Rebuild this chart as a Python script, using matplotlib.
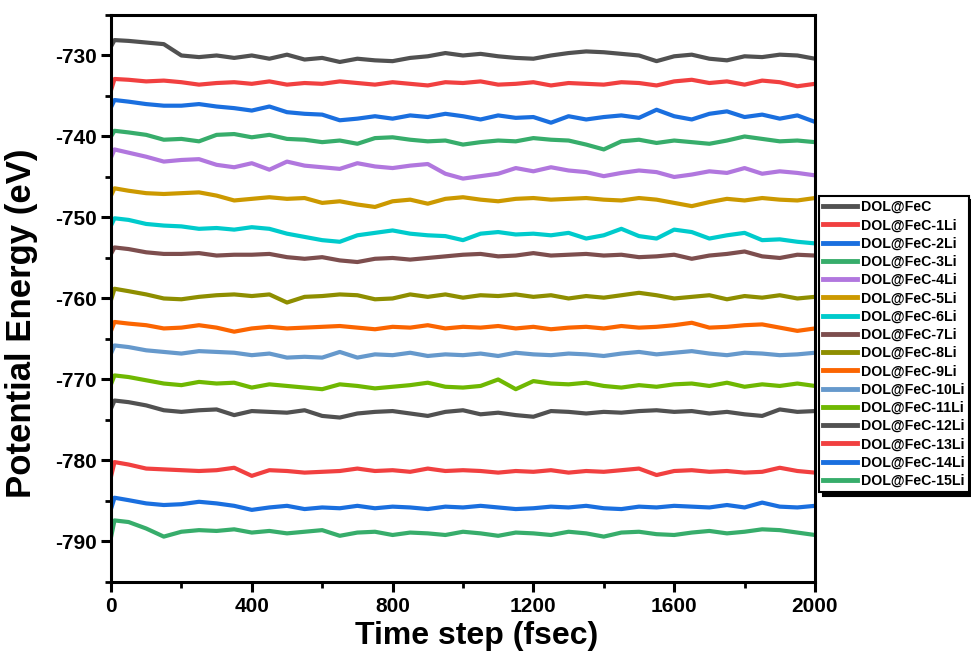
import matplotlib
matplotlib.use("Agg")
import matplotlib.pyplot as plt
from matplotlib.ticker import MultipleLocator

# time axis (fsec), values every 50 fs
time_fs = [0, 10] + list(range(50, 2001, 50))

labels = ["DOL@FeC"] + ["DOL@FeC-%dLi" % i for i in range(1, 16)]

feC = [-728.9, -728.1, -728.2, -728.4, -728.6, -730.0, -730.2, -730.0, -730.3, -730.0, -730.4,
       -729.9, -730.5, -730.3, -730.8, -730.4, -730.6, -730.7, -730.3, -730.1, -729.7, -730.0,
       -729.8, -730.1, -730.3, -730.4, -730.0, -729.7, -729.5, -729.6, -729.8, -730.0, -730.7,
       -730.1, -729.9, -730.4, -730.6, -730.1, -730.2, -729.9, -730.0, -730.4]
li1 = [-734.3, -732.9, -733.0, -733.2, -733.1, -733.3, -733.6, -733.4, -733.3, -733.5, -733.2,
       -733.6, -733.4, -733.5, -733.2, -733.4, -733.6, -733.3, -733.5, -733.7, -733.3, -733.4,
       -733.2, -733.6, -733.5, -733.3, -733.7, -733.4, -733.5, -733.6, -733.3, -733.4, -733.7,
       -733.2, -733.0, -733.4, -733.2, -733.6, -733.1, -733.3, -733.8, -733.5]
li2 = [-736.4, -735.5, -735.7, -736.0, -736.2, -736.2, -736.0, -736.3, -736.5, -736.8, -736.3,
       -737.0, -737.2, -737.3, -738.0, -737.8, -737.5, -737.8, -737.4, -737.6, -737.2, -737.5,
       -737.9, -737.4, -737.7, -737.6, -738.3, -737.5, -737.9, -737.6, -737.4, -737.7, -736.7,
       -737.5, -737.9, -737.2, -736.9, -737.6, -737.3, -737.8, -737.4, -738.2]
li3 = [-740.0, -739.3, -739.5, -739.8, -740.4, -740.3, -740.6, -739.8, -739.7, -740.1, -739.8,
       -740.3, -740.4, -740.7, -740.5, -740.9, -740.2, -740.1, -740.4, -740.6, -740.5, -741.0,
       -740.7, -740.5, -740.6, -740.2, -740.4, -740.5, -741.0, -741.6, -740.6, -740.4, -740.8,
       -740.5, -740.7, -740.9, -740.5, -740.0, -740.3, -740.6, -740.5, -740.7]
li4 = [-742.6, -741.6, -742.0, -742.5, -743.1, -742.9, -742.8, -743.5, -743.8, -743.3, -744.1,
       -743.1, -743.6, -743.8, -744.0, -743.3, -743.7, -743.9, -743.6, -743.4, -744.6, -745.2,
       -744.9, -744.6, -743.9, -744.3, -743.8, -744.2, -744.4, -744.9, -744.5, -744.2, -744.4,
       -745.0, -744.7, -744.3, -744.5, -743.9, -744.6, -744.3, -744.5, -744.8]
li5 = [-747.3, -746.4, -746.7, -747.0, -747.1, -747.0, -746.9, -747.3, -747.9, -747.7, -747.5,
       -747.7, -747.6, -748.2, -748.0, -748.4, -748.7, -748.0, -747.8, -748.3, -747.7, -747.5,
       -747.8, -748.0, -747.7, -747.6, -747.8, -747.7, -747.6, -747.8, -747.9, -747.6, -747.8,
       -748.2, -748.6, -748.1, -747.7, -747.9, -747.6, -747.8, -747.9, -747.6]
li6 = [-751.0, -750.1, -750.3, -750.8, -751.0, -751.1, -751.4, -751.3, -751.5, -751.2, -751.4,
       -752.0, -752.4, -752.8, -753.0, -752.2, -751.9, -751.6, -752.0, -752.2, -752.3, -752.8,
       -752.0, -751.8, -752.1, -752.0, -752.2, -751.9, -752.6, -752.2, -751.4, -752.3, -752.6,
       -751.5, -751.8, -752.6, -752.2, -751.9, -752.8, -752.7, -753.0, -753.2]
li7 = [-754.5, -753.7, -753.9, -754.3, -754.5, -754.5, -754.4, -754.7, -754.6, -754.6, -754.5,
       -754.9, -755.1, -754.9, -755.3, -755.5, -755.1, -755.0, -755.2, -755.0, -754.8, -754.6,
       -754.5, -754.8, -754.7, -754.4, -754.7, -754.6, -754.5, -754.7, -754.6, -754.9, -754.8,
       -754.6, -755.1, -754.7, -754.5, -754.2, -754.8, -755.0, -754.6, -754.7]
li8 = [-760.2, -758.8, -759.1, -759.5, -760.0, -760.1, -759.8, -759.6, -759.5, -759.7, -759.5,
       -760.5, -759.8, -759.7, -759.5, -759.6, -760.1, -760.0, -759.5, -759.8, -759.5, -759.9,
       -759.6, -759.7, -759.5, -759.8, -759.6, -760.0, -759.7, -759.9, -759.6, -759.3, -759.6,
       -760.0, -759.8, -759.6, -760.1, -759.7, -759.9, -759.6, -760.0, -759.8]
li9 = [-764.0, -762.9, -763.1, -763.3, -763.7, -763.6, -763.3, -763.6, -764.1, -763.7, -763.5,
       -763.7, -763.6, -763.5, -763.4, -763.6, -763.8, -763.5, -763.6, -763.3, -763.7, -763.5,
       -763.6, -763.4, -763.7, -763.5, -763.8, -763.6, -763.5, -763.7, -763.4, -763.6, -763.5,
       -763.3, -763.0, -763.6, -763.5, -763.3, -763.2, -763.6, -764.0, -763.7]
li10 = [-766.8, -765.8, -766.0, -766.4, -766.6, -766.8, -766.5, -766.6, -766.7, -767.0, -766.8,
        -767.3, -767.2, -767.3, -766.6, -767.3, -766.9, -767.0, -766.7, -767.1, -766.9, -767.0,
        -766.8, -767.1, -766.7, -766.9, -767.0, -766.8, -766.9, -767.1, -766.8, -766.6, -766.9,
        -766.7, -766.5, -766.8, -767.0, -766.7, -766.8, -767.0, -766.9, -766.7]
li11 = [-770.6, -769.5, -769.7, -770.1, -770.5, -770.7, -770.3, -770.5, -770.4, -771.0, -770.6,
        -770.8, -771.0, -771.2, -770.6, -770.8, -771.1, -770.9, -770.7, -770.4, -770.9, -771.0,
        -770.8, -770.0, -771.2, -770.2, -770.5, -770.6, -770.4, -770.8, -771.0, -770.7, -770.9,
        -770.6, -770.5, -770.8, -770.4, -770.9, -770.6, -770.8, -770.5, -770.8]
li12 = [-773.6, -772.6, -772.8, -773.2, -773.8, -774.0, -773.8, -773.7, -774.4, -773.9, -774.0,
        -774.1, -773.8, -774.5, -774.7, -774.2, -774.0, -773.9, -774.2, -774.5, -774.0, -773.8,
        -774.3, -774.1, -774.4, -774.6, -773.9, -774.0, -774.2, -774.0, -774.1, -773.9, -773.8,
        -774.0, -773.9, -774.2, -774.0, -774.3, -774.5, -773.7, -774.0, -773.9]
li13 = [-782.0, -780.2, -780.5, -781.0, -781.1, -781.2, -781.3, -781.2, -780.9, -781.9, -781.2,
        -781.3, -781.5, -781.4, -781.3, -781.0, -781.3, -781.2, -781.4, -781.0, -781.3, -781.2,
        -781.3, -781.5, -781.3, -781.4, -781.2, -781.5, -781.3, -781.4, -781.2, -781.0, -781.8,
        -781.3, -781.2, -781.4, -781.3, -781.5, -781.4, -780.9, -781.3, -781.5]
li14 = [-786.0, -784.6, -784.9, -785.3, -785.5, -785.4, -785.1, -785.3, -785.6, -786.1, -785.8,
        -785.6, -786.0, -785.8, -785.9, -785.6, -785.9, -785.7, -785.8, -786.0, -785.7, -785.8,
        -785.6, -785.8, -786.0, -785.9, -785.7, -785.8, -785.6, -785.9, -786.0, -785.7, -785.8,
        -785.6, -785.7, -785.8, -785.5, -785.8, -785.2, -785.7, -785.8, -785.6]
li15 = [-789.5, -787.4, -787.6, -788.4, -789.4, -788.8, -788.6, -788.7, -788.5, -788.9, -788.7,
        -789.0, -788.8, -788.6, -789.3, -788.9, -788.8, -789.2, -788.9, -789.0, -789.2, -788.8,
        -789.0, -789.3, -788.9, -789.0, -789.2, -788.8, -789.0, -789.4, -788.9, -788.8, -789.1,
        -789.2, -788.9, -788.7, -789.0, -788.8, -788.5, -788.6, -788.9, -789.2]

series = [feC, li1, li2, li3, li4, li5, li6, li7, li8, li9, li10, li11, li12, li13, li14, li15]

# Origin-style default colour cycle
colors = ["#515151", "#F14040", "#1A6FDF", "#37AD6B", "#B177DE", "#CC9900", "#00CBCC",
          "#7D4E4E", "#8E8E00", "#FB6501", "#6699CC", "#6FB802",
          "#515151", "#F14040", "#1A6FDF", "#37AD6B"]

plt.rcParams['font.family'] = ['Liberation Sans', 'DejaVu Sans']
plt.rcParams['axes.unicode_minus'] = False

fig = plt.figure(figsize=(9.71, 6.57), dpi=100)
ax = fig.add_axes([0.1143, 0.1142, 0.725, 0.863])

for y, c, lab in zip(series, colors, labels):
    ax.plot(time_fs, y, color=c, lw=3.0, label=lab)

ax.set_xlim(0, 2000)
ax.set_ylim(-795, -725)
ax.xaxis.set_major_locator(MultipleLocator(400))
ax.xaxis.set_minor_locator(MultipleLocator(200))
ax.yaxis.set_major_locator(MultipleLocator(10))
ax.yaxis.set_minor_locator(MultipleLocator(5))
ax.tick_params(which='major', direction='out', length=7, width=2.2, labelsize=15)
ax.tick_params(which='minor', direction='out', length=4, width=2.0)
for t in ax.get_xticklabels() + ax.get_yticklabels():
    t.set_fontweight('bold')
for s in ax.spines.values():
    s.set_linewidth(2.2)

ax.set_xlabel("Time step (fsec)", fontsize=23, fontweight='bold', labelpad=4)
ax.xaxis.label.set_x(0.52)
ax.set_ylabel("Potential Energy (eV)", fontsize=25, fontweight='bold')
ax.yaxis.set_label_coords(-0.104, 0.457)

leg = fig.legend(loc='lower left', bbox_to_anchor=(0.8435, 0.251),
                 prop={'weight': 'bold', 'size': 10.2}, frameon=True, fancybox=False,
                 shadow={'color': 'black', 'alpha': 1.0, 'ox': 3, 'oy': -3},
                 handlelength=2.4, handletextpad=0.25, labelspacing=0.3,
                 borderpad=0.3, borderaxespad=0)
leg.get_frame().set_edgecolor('black')
leg.get_frame().set_linewidth(1.5)
for h in leg.get_lines():
    h.set_linewidth(3.5)

fig.savefig("out.png", dpi=100)
